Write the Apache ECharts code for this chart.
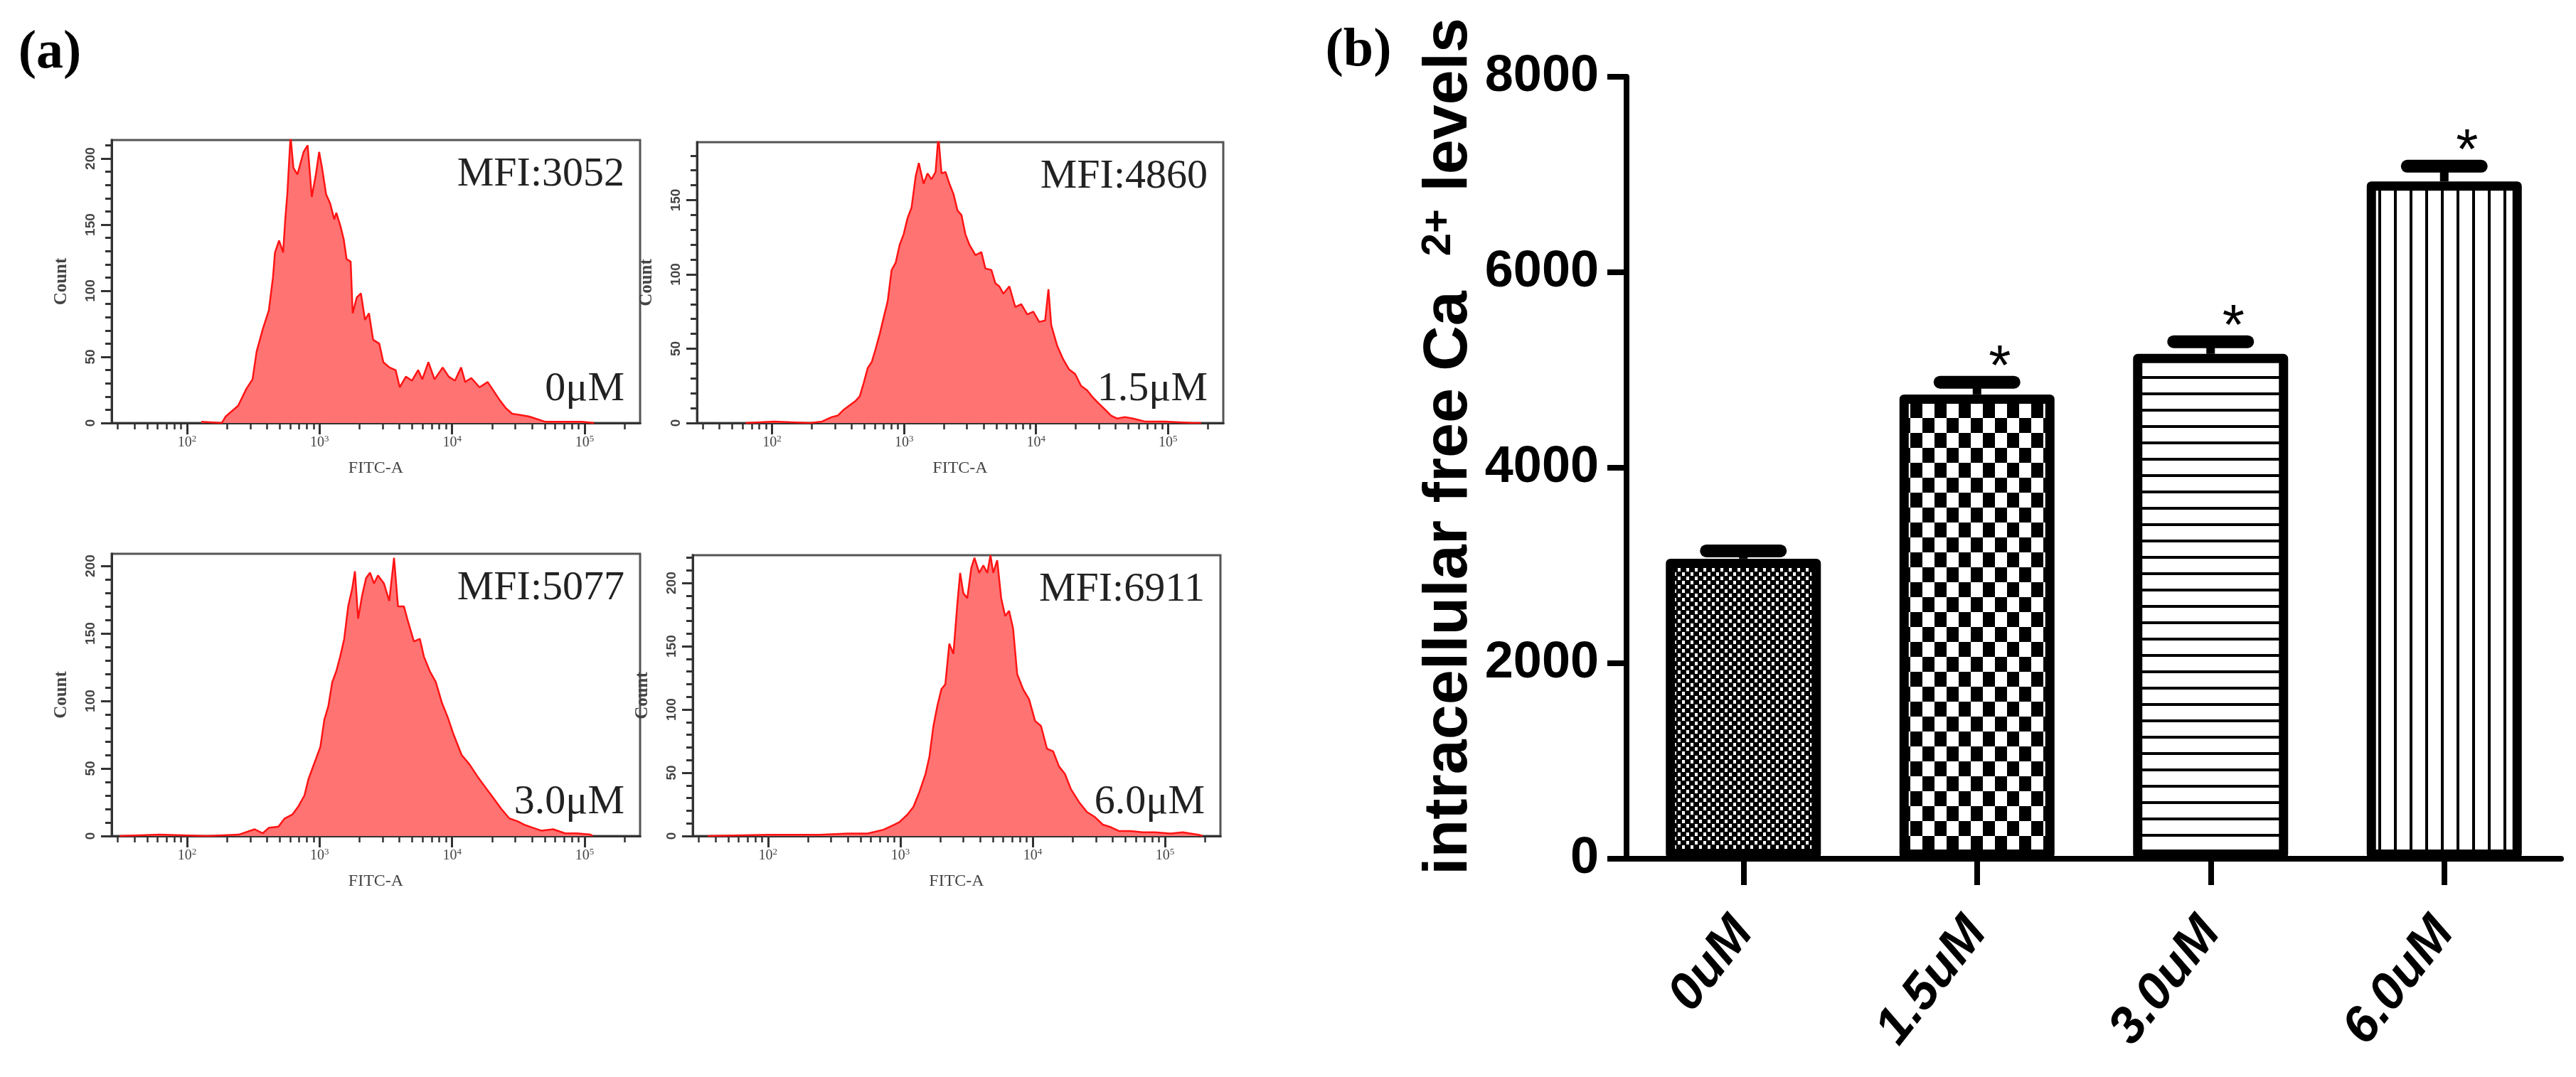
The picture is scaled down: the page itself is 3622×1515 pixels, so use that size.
<!DOCTYPE html>
<html>
<head>
<meta charset="utf-8">
<script src="https://cdn.jsdelivr.net/npm/echarts@6/dist/echarts.min.js"></script>
<style>
html,body{margin:0;padding:0;background:#fff;}
#c{width:3622px;height:1515px;}
</style>
</head>
<body>
<div id="c"></div>
<script>
// ---------- Panel (a) data: flow-cytometry histograms (FITC-A vs Count) ----------
const fitcMajorTicks = [100, 1000, 10000, 100000];
const fitcMinorTicks = [30,40,50,60,70,80,90,200,300,400,500,600,700,800,900,
  2000,3000,4000,5000,6000,7000,8000,9000,20000,30000,40000,50000,60000,70000,80000,90000,200000];
const countMajorTicks = [0, 50, 100, 150, 200];
const countMinorTicks = [0,10,20,30,40,50,60,70,80,90,100,110,120,130,140,150,160,170,180,190,200,210,220];
const countMax = [214, 189, 209, 222];
const mfiLabels = ['MFI:3052', 'MFI:4860', 'MFI:5077', 'MFI:6911'];
const doseLabels = ['0\u03bcM', '1.5\u03bcM', '3.0\u03bcM', '6.0\u03bcM'];

const hist0uM = [[128,1],[183,0],[196,5],[243,13],[281,26],[312,33],[335,54],[373,71],[414,85],[445,110],[461,129],[495,138],[531,129],[551,154],[571,173],[604,217],[635,193],[681,188],[758,205],[813,210],[874,171],[938,188],[993,205],[1044,193],[1120,173],[1203,166],[1291,154],[1338,159],[1437,149],[1521,139],[1599,124],[1717,122],[1778,83],[1910,95],[2051,98],[2203,78],[2361,83],[2536,63],[2823,60],[3029,46],[3373,42],[3750,40],[4027,27],[4478,35],[4984,32],[5544,40],[5957,33],[6628,46],[7371,33],[8490,42],[9446,35],[10514,32],[11695,42],[12557,31],[13963,34],[16103,27],[18570,31],[20660,24],[22978,17],[25560,11],[28430,7],[32740,6],[37760,5],[40550,4],[50200,1],[71600,1],[95100,1],[117800,0]];
const hist1_5uM = [[63,0],[104,1],[194,0],[239,1],[284,4],[315,5],[350,9],[388,12],[431,15],[462,18],[495,27],[531,37],[569,41],[610,50],[655,60],[701,71],[752,82],[805,103],[865,108],[927,120],[993,127],[1064,138],[1140,145],[1225,166],[1294,175],[1406,161],[1507,168],[1614,164],[1734,169],[1820,193],[1923,168],[2061,169],[2208,161],[2371,154],[2541,143],[2723,140],[2917,127],[3126,120],[3475,113],[3855,115],[4130,104],[4592,103],[4920,94],[5272,92],[5649,87],[6281,92],[6966,78],[7727,80],[8590,73],[9528,75],[10568,68],[11722,69],[12417,90],[13032,66],[14454,52],[16032,43],[17824,36],[19770,33],[21928,25],[24378,22],[27040,17],[29992,13],[33343,9],[36983,5],[41020,3],[47206,4],[54200,3],[66834,1],[94624,1],[153815,0],[177828,0]];
const hist3_0uM = [[31,0],[62,1],[141,0],[245,1],[324,5],[372,2],[413,6],[490,7],[545,13],[625,16],[693,22],[769,30],[824,42],[883,50],[946,58],[1014,66],[1086,86],[1164,96],[1247,114],[1337,122],[1432,133],[1535,146],[1644,170],[1762,183],[1849,196],[1954,161],[2094,178],[2244,191],[2404,195],[2576,187],[2761,193],[3062,187],[3357,174],[3648,206],[3908,170],[4335,170],[4645,159],[5152,144],[5715,146],[6124,133],[6792,122],[7534,114],[8356,99],[9268,88],[10280,75],[11803,60],[13552,53],[15560,44],[17865,36],[20512,28],[23550,20],[27040,13],[31046,11],[35727,8],[41020,6],[47098,4],[57943,5],[71285,2],[87700,2],[110917,1],[114815,0]];
const hist6_0uM = [[35,0],[100,1],[162,1],[245,1],[400,2],[566,2],[746,5],[859,8],[986,11],[1132,17],[1256,23],[1396,35],[1549,49],[1660,63],[1778,87],[1905,103],[2042,116],[2188,120],[2344,152],[2518,144],[2698,184],[2831,208],[2992,192],[3206,188],[3436,212],[3631,220],[3945,208],[4236,214],[4539,208],[4797,222],[5035,208],[5395,218],[5781,188],[6194,174],[6637,178],[7112,164],[7638,128],[8472,116],[9397,108],[10423,91],[11561,87],[12823,69],[14256,67],[15812,55],[17539,49],[19454,37],[22336,27],[25704,19],[29512,15],[33884,9],[38905,7],[44771,4],[55081,4],[67764,3],[83560,3],[110154,2],[135831,3],[179060,1],[191867,0]];
const histograms = [hist0uM, hist1_5uM, hist3_0uM, hist6_0uM];

// ---------- Panel (b) data: intracellular free Ca2+ levels ----------
const categories = ['0uM', '1.5uM', '3.0uM', '6.0uM'];
const caValues = [3070, 4750, 5165, 6930];
const caErrors = [80, 125, 125, 155];
const significance = ['', '*', '*', '*'];
const caTicks = [0, 2000, 4000, 6000, 8000];

// ---------- styles / layout ----------
const SERIF = "'Liberation Serif','Times New Roman',serif";
const SANS = "'Liberation Sans',Arial,sans-serif";
const AX = '#333';

const gridsA = [
  {left:157, top:197, width:743, height:398},
  {left:980, top:200, width:740, height:395},
  {left:157, top:779, width:743, height:397},
  {left:974, top:781, width:742, height:395}
];
const gridB = {left:2287, top:108, width:1314, height:1100};

function makePattern(kind){
  const c = document.createElement('canvas');
  const g = c.getContext('2d');
  if (kind === 'fine'){
    c.width = 12; c.height = 12;
    g.fillStyle = '#000'; g.fillRect(0,0,12,12);
    g.fillStyle = '#fff'; g.fillRect(1,1,4,5); g.fillRect(7,7,4,5);
  } else if (kind === 'checker'){
    c.width = 34; c.height = 42;
    g.fillStyle = '#000'; g.fillRect(0,0,34,42);
    g.fillStyle = '#fff'; g.fillRect(0,0,17,21); g.fillRect(17,21,17,21);
  } else if (kind === 'hstripe'){
    c.width = 8; c.height = 23;
    g.fillStyle = '#fff'; g.fillRect(0,0,8,23);
    g.fillStyle = '#000'; g.fillRect(0,0,8,4);
  } else {
    c.width = 22; c.height = 8;
    g.fillStyle = '#fff'; g.fillRect(0,0,22,8);
    g.fillStyle = '#000'; g.fillRect(0,0,4,8);
  }
  return {image: c, repeat: 'repeat'};
}
const barPatterns = [makePattern('fine'), makePattern('checker'), makePattern('hstripe'), makePattern('vstripe')];

const grid = [], xAxis = [], yAxis = [], series = [], graphic = [];

gridsA.forEach(function(gr, i){
  grid.push(Object.assign({show:true, borderColor:'#555', borderWidth:3, backgroundColor:'#fff', outerBoundsMode:'none'}, gr));
  const xBase = {type:'log', logBase:10, gridIndex:i, min:27, max:262144, position:'bottom',
    splitLine:{show:false}, minorSplitLine:{show:false}};
  xAxis.push(Object.assign({}, xBase, {
    axisLine:{show:true, lineStyle:{color:AX, width:3}},
    axisTick:{show:true, customValues:fitcMinorTicks, length:9, lineStyle:{color:AX, width:2.5}},
    axisLabel:{show:false}
  }));
  xAxis.push(Object.assign({}, xBase, {
    axisLine:{show:true, lineStyle:{color:AX, width:3}},
    axisTick:{show:true, customValues:fitcMajorTicks, length:16, lineStyle:{color:AX, width:3}},
    axisLabel:{show:true, customValues:fitcMajorTicks, margin:16, color:'#444',
      formatter:function(v){ return '{b|10}{s|' + Math.round(Math.log10(v)) + '}'; },
      rich:{b:{fontSize:20, fontFamily:SERIF, color:'#444'}, s:{fontSize:13, fontFamily:SERIF, color:'#444', verticalAlign:'top', padding:[0,0,10,0]}}},
    name:'FITC-A', nameLocation:'middle', nameGap:52,
    nameTextStyle:{fontSize:24, fontFamily:SERIF, color:'#444'}
  }));
  const yBase = {type:'value', gridIndex:i, min:0, max:countMax[i], position:'left',
    splitLine:{show:false}};
  yAxis.push(Object.assign({}, yBase, {
    axisLine:{show:true, lineStyle:{color:AX, width:3}},
    axisTick:{show:true, customValues:countMinorTicks.filter(function(v){return v<=countMax[i];}), length:9, lineStyle:{color:AX, width:3}},
    axisLabel:{show:false}
  }));
  yAxis.push(Object.assign({}, yBase, {
    axisLine:{show:true, lineStyle:{color:AX, width:3}},
    axisTick:{show:true, customValues:countMajorTicks.filter(function(v){return v<=countMax[i];}), length:15, lineStyle:{color:AX, width:3}},
    axisLabel:{show:true, customValues:countMajorTicks.filter(function(v){return v<=countMax[i];}), rotate:90, margin:20,
      fontSize:19, fontWeight:'bold', fontFamily:SANS, color:'#444'},
    name:'Count', nameLocation:'middle', nameGap:58, nameRotate:90,
    nameTextStyle:{fontSize:25, fontWeight:'bold', fontFamily:SERIF, color:'#444'}
  }));
  series.push({
    type:'line', xAxisIndex:2*i+1, yAxisIndex:2*i+1, data:histograms[i],
    symbol:'none', smooth:false, clip:true,
    lineStyle:{color:'#ff1414', width:2.5},
    areaStyle:{color:'#ff7373', opacity:1},
    silent:true
  });
  graphic.push({type:'text', x:gr.left+gr.width-22, y:gr.top+49, z:100,
    style:{text:mfiLabels[i], fontSize:58, fontFamily:SERIF, fill:'#222', align:'right', verticalAlign:'middle'}});
  graphic.push({type:'text', x:gr.left+gr.width-22, y:gr.top+gr.height-47, z:100,
    style:{text:doseLabels[i], fontSize:58, fontFamily:SERIF, fill:'#222', align:'right', verticalAlign:'middle'}});
});

// panel (b)
grid.push(Object.assign({show:false, outerBoundsMode:'none'}, gridB));
xAxis.push({
  type:'category', gridIndex:4, data:categories, boundaryGap:true,
  axisLine:{show:true, lineStyle:{color:'#000', width:8}},
  axisTick:{show:true, alignWithLabel:true, length:37, lineStyle:{color:'#000', width:8}},
  axisLabel:{rotate:52, margin:92, fontSize:72, fontWeight:'bold', fontStyle:'italic', fontFamily:SANS, color:'#000'},
  splitLine:{show:false}
});
yAxis.push({
  type:'value', gridIndex:4, min:0, max:8000, interval:2000,
  axisLine:{show:true, lineStyle:{color:'#000', width:8}},
  axisTick:{show:true, length:27, lineStyle:{color:'#000', width:8}},
  axisLabel:{customValues:caTicks, margin:39, fontSize:72, fontWeight:'bold', fontFamily:SANS, color:'#000',
    formatter:function(v){ return String(v); }},
  splitLine:{show:false},
  name:'{t|intracellular free Ca  }{s|2+}{t| levels}', nameLocation:'middle', nameGap:205, nameRotate:90,
  nameTextStyle:{fontSize:88, fontWeight:'bold', fontFamily:SANS, color:'#000', padding:[0,0,0,60],
    rich:{t:{fontSize:88, fontWeight:'bold', fontFamily:SANS, color:'#000'},
          s:{fontSize:58, fontWeight:'bold', fontFamily:SANS, color:'#000', verticalAlign:'top'}}}
});
series.push({
  type:'bar', xAxisIndex:8, yAxisIndex:8, barWidth:218,
  data: caValues.map(function(v, i){ return {value:v, itemStyle:{color:barPatterns[i]}}; }),
  itemStyle:{borderColor:'#000', borderWidth:13, borderJoin:'round'},
  silent:true
});
series.push({
  type:'custom', xAxisIndex:8, yAxisIndex:8, silent:true, z:5,
  data: caValues.map(function(v, i){ return [i, v, caErrors[i]]; }),
  renderItem:function(params, api){
    const i = params.dataIndex;
    const base = api.coord([api.value(0), api.value(1)]);
    const top = api.coord([api.value(0), api.value(1) + api.value(2)]);
    const half = 52;
    const children = [
      {type:'line', shape:{x1:base[0], y1:base[1], x2:base[0], y2:top[1]}, style:{stroke:'#000', lineWidth:12}},
      {type:'line', shape:{x1:top[0]-half, y1:top[1], x2:top[0]+half, y2:top[1]}, style:{stroke:'#000', lineWidth:18, lineCap:'round'}}
    ];
    if (significance[i]) {
      children.push({type:'text', x:top[0]+32, y:top[1]-19,
        style:{text:significance[i], fontSize:80, fontFamily:SANS, fill:'#000', align:'center', verticalAlign:'middle'}});
    }
    return {type:'group', children:children};
  }
});

graphic.push({type:'text', x:70, y:75, style:{text:'(a)', fontSize:76, fontWeight:'bold', fontFamily:SERIF, fill:'#000', align:'center', verticalAlign:'middle'}});
graphic.push({type:'text', x:1910, y:72, style:{text:'(b)', fontSize:76, fontWeight:'bold', fontFamily:SERIF, fill:'#000', align:'center', verticalAlign:'middle'}});

const chart = echarts.init(document.getElementById('c'), null, {renderer:'canvas'});
chart.setOption({
  backgroundColor:'#fff',
  animation:false,
  grid:grid, xAxis:xAxis, yAxis:yAxis, series:series, graphic:graphic
});
</script>
</body>
</html>
